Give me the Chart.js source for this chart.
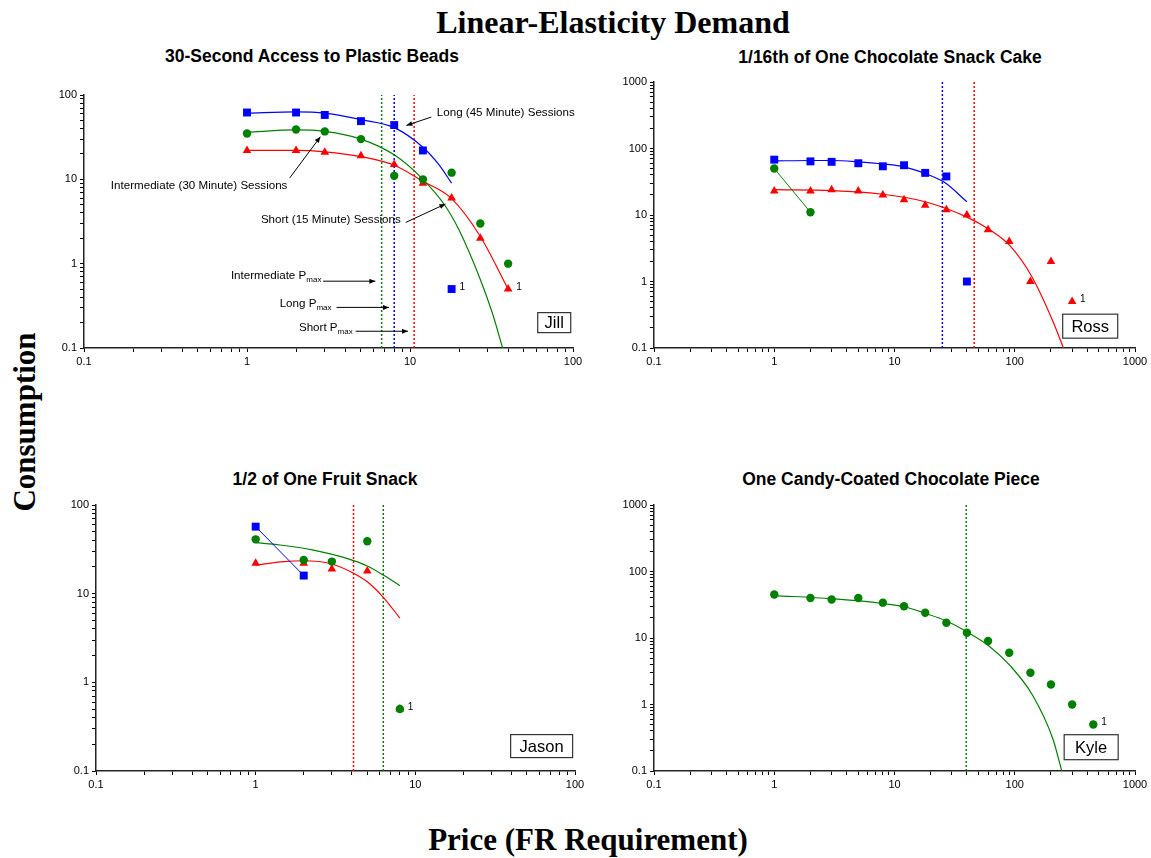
<!DOCTYPE html>
<html>
<head>
<meta charset="utf-8">
<script src="https://cdn.jsdelivr.net/npm/chart.js@4/dist/chart.umd.min.js"></script>
<style>
  body { margin: 0; background: #fff; }
  #page { position: relative; width: 1151px; height: 858px; overflow: hidden; font-family: "Liberation Sans", Arial, sans-serif; }
  #page canvas { position: absolute; }
  .t { position: absolute; white-space: nowrap; transform: translate(-50%, -50%); color: #000; }
  .big { font-family: "Liberation Serif", "Times New Roman", serif; font-weight: bold; font-size: 31px; }
  .sub { font-weight: bold; font-size: 17.5px; }
</style>
</head>
<body>
<div id="page">
  <div class="t big" style="left:613px;top:22px;font-size:32px">Linear-Elasticity Demand</div>
  <div class="t big" style="left:25px;top:422px;transform:translate(-50%,-50%) rotate(-90deg)">Consumption</div>
  <div class="t big" style="left:588px;top:840px">Price (FR Requirement)</div>
  <div class="t sub" style="left:312px;top:56px">30-Second Access to Plastic Beads</div>
  <div class="t sub" style="left:890px;top:57px">1/16th of One Chocolate Snack Cake</div>
  <div class="t sub" style="left:325px;top:479px">1/2 of One Fruit Snack</div>
  <div class="t sub" style="left:891px;top:479px">One Candy-Coated Chocolate Piece</div>
</div>
<script>
// Jill - plastic beads
const jillPrice = [1, 2, 3, 5, 8, 12, 18, 27, 40];
const jillLong = [62, 62, 58, 49, 44, 22, 0.5];
const jillInter = [35, 39, 37, 30, 11, 10, 12, 3, 1];
const jillShort = [22, 22, 21, 19, 15, 9, 6, 2, 0.5];
const jillPmaxPrice = [6.7, 8.0, 10.6]; // intermediate, long, short
const jillLongFitX = [1, 2, 3, 5, 8, 12, 15, 18];
const jillLongFitY = [61, 63, 61, 51, 41, 24, 15, 9];
const jillInterFitX = [1, 2, 3, 5, 8, 12, 16.5, 20, 27, 32, 37];
const jillInterFitY = [36, 38.5, 37, 30, 19.5, 10, 4.8, 2.5, 0.65, 0.26, 0.1];
const jillShortFitX = [1, 2, 3, 5, 8, 12, 18, 27, 40];
const jillShortFitY = [22, 22, 21.2, 18.6, 14.7, 9.5, 5.9, 2.1, 0.5];

// Ross - snack cake
const rossPrice = [1, 2, 3, 5, 8, 12, 18, 27, 40, 60, 90, 135, 200, 300];
const rossLong = [68, 64, 63, 60, 54, 56, 43, 38, 1];
const rossInter = [50, 11];
const rossShort = [23, 23, 24, 23, 20, 17, 14, 12, 10, 6, 4, 1, 2, 0.5];
const rossPmaxPrice = [25, 46]; // long, short
const rossLongFitX = [1, 2, 3, 5, 8, 12, 18, 26, 40];
const rossLongFitY = [65, 66, 66, 63, 58.5, 53, 42, 31, 15.8];
const rossShortFitX = [1, 3, 8, 18, 40, 61, 92, 140, 208, 254];
const rossShortFitY = [24, 23.3, 20.5, 15.8, 9.3, 6.1, 3.4, 1.15, 0.25, 0.1];

// Jason - fruit snack
const jasonPrice = [1, 2, 3, 5, 8];
const jasonLong = [57, 16];
const jasonInter = [41, 24, 23, 39, 0.5];
const jasonShort = [22, 22, 19, 18, 0.5];
const jasonPmaxPrice = [4.1, 6.3]; // short, intermediate
const jasonInterFitX = [1, 1.42, 2.3, 3.72, 5, 6.3, 8];
const jasonInterFitY = [37.6, 35.4, 31, 25, 20.5, 16.2, 12.3];
const jasonShortFitX = [1, 1.5, 2, 3, 4.1, 5, 6.3, 8];
const jasonShortFitY = [21, 23, 23.5, 21.6, 17, 13.6, 9.1, 5.3];

// Kyle - chocolate piece
const kylePrice = [1, 2, 3, 5, 8, 12, 18, 27, 40, 60, 90, 135, 200, 300, 450];
const kyleInter = [45, 40, 38, 40, 34, 30, 24, 17, 12, 9, 6, 3, 2, 1, 0.5];
const kylePmaxPrice = [39.5];
const kyleInterFitX = [1, 3, 8, 12, 18, 27, 40, 61, 92, 140, 208, 246];
const kyleInterFitY = [43.5, 39, 33, 29.5, 23.5, 18, 12.4, 7.6, 3.8, 1.4, 0.3, 0.1];

const BLUE = '#0000ff', GREEN = '#008000', RED = '#ff0000';
const STYLE = {
  long: { color: BLUE, shape: 'rect', r: 5.6 },
  inter: { color: GREEN, shape: 'circle', r: 4.2 },
  short: { color: RED, shape: 'triangle', r: 5 }
};

function pts(xs, ys) {
  return ys.map((y, i) => ({ x: xs[i], y: y }));
}

function marks(xs, ys, kind, order, joined) {
  const s = STYLE[kind];
  return {
    data: pts(xs, ys), showLine: !!joined, borderColor: s.color, borderWidth: 1,
    backgroundColor: s.color, pointBackgroundColor: s.color, pointBorderColor: s.color,
    pointStyle: s.shape, pointRadius: s.r, pointBorderWidth: 0, order: order
  };
}

function fit(xs, ys, kind) {
  return {
    data: pts(xs, ys), showLine: true, borderColor: STYLE[kind].color, borderWidth: 1.2,
    pointRadius: 0, cubicInterpolationMode: 'monotone', order: 10
  };
}

function pmax(x, kind, top) {
  return {
    data: [{ x: x, y: 0.1 }, { x: x, y: top }], showLine: true, borderColor: STYLE[kind].color,
    borderWidth: 1.5, borderDash: [2, 2], pointRadius: 0, order: 20
  };
}

function decadeTicks(scale) {
  const out = [];
  const e0 = Math.round(Math.log10(scale.min)), e1 = Math.round(Math.log10(scale.max));
  for (let e = e0; e <= e1; e++) {
    for (let m = 1; m <= 9; m++) {
      const v = +(m * Math.pow(10, e)).toPrecision(3);
      if (v <= scale.max * 1.0001) out.push({ value: v });
    }
  }
  scale.ticks = out;
}

function decadeLabel(v) {
  const l = Math.log10(v);
  return Math.abs(l - Math.round(l)) < 1e-6 ? String(+v.toPrecision(1)) : '';
}

function axis(max, isX) {
  return {
    type: 'logarithmic', min: 0.1, max: max, position: isX ? 'bottom' : 'left',
    afterBuildTicks: decadeTicks,
    afterFit: s => { if (isX) s.height = 30; else s.width = 50; },
    grid: { drawOnChartArea: false, drawTicks: true, tickLength: 4, tickColor: '#000', lineWidth: 1 },
    border: { display: true, color: '#222', width: 1.5 },
    ticks: { autoSkip: false, maxRotation: 0, padding: 3, color: '#000',
             font: { size: 11, family: '"Liberation Sans", Arial' }, callback: decadeLabel }
  };
}

const notesPlugin = {
  id: 'notes',
  afterDatasetsDraw(chart, args, opts) {
    const ctx = chart.ctx;
    const px = v => chart.scales.x.getPixelForValue(v);
    const py = v => chart.scales.y.getPixelForValue(v);
    ctx.save();
    ctx.fillStyle = '#000';
    ctx.strokeStyle = '#000';
    (opts.arrows || []).forEach(a => {
      const x1 = px(a[0]), y1 = py(a[1]), x2 = px(a[2]), y2 = py(a[3]);
      const ang = Math.atan2(y2 - y1, x2 - x1);
      ctx.lineWidth = 1;
      ctx.beginPath(); ctx.moveTo(x1, y1); ctx.lineTo(x2, y2); ctx.stroke();
      ctx.beginPath();
      ctx.moveTo(x2, y2);
      ctx.lineTo(x2 - 6 * Math.cos(ang) + 2.5 * Math.sin(ang), y2 - 6 * Math.sin(ang) - 2.5 * Math.cos(ang));
      ctx.lineTo(x2 - 6 * Math.cos(ang) - 2.5 * Math.sin(ang), y2 - 6 * Math.sin(ang) + 2.5 * Math.cos(ang));
      ctx.closePath(); ctx.fill();
    });
    ctx.textBaseline = 'middle';
    (opts.texts || []).forEach(t => {
      const f1 = '11.6px "Liberation Sans", Arial', f2 = '8px "Liberation Sans", Arial';
      ctx.font = f1; const w1 = ctx.measureText(t.text).width;
      ctx.font = f2; const w2 = t.sub ? ctx.measureText(t.sub).width : 0;
      let x = px(t.x); const y = py(t.y);
      if (t.align === 'right') x -= w1 + w2;
      ctx.textAlign = 'left';
      ctx.font = f1; ctx.fillText(t.text, x, y);
      if (t.sub) { ctx.font = f2; ctx.fillText(t.sub, x + w1, y + 4); }
    });
    ctx.font = '10px "Liberation Sans", Arial';
    ctx.textAlign = 'left';
    (opts.ones || []).forEach(p => { ctx.fillText('1', px(p[0]) + 8, py(p[1]) - 2); });
    (opts.boxes || []).forEach(b => {
      const x = px(b.x), y = py(b.y);
      ctx.fillStyle = '#fff';
      ctx.fillRect(x - b.w / 2, y - b.h / 2, b.w, b.h);
      ctx.lineWidth = 1.2; ctx.strokeStyle = '#333';
      ctx.strokeRect(x - b.w / 2, y - b.h / 2, b.w, b.h);
      ctx.fillStyle = '#000';
      ctx.font = '16.5px "Liberation Sans", Arial';
      ctx.textAlign = 'center';
      ctx.fillText(b.text, x, y + 1);
    });
    ctx.restore();
  }
};

function makePanel(area, xMax, yMax, datasets, notes) {
  const cv = document.createElement('canvas');
  const w = area.r - area.l + 66, h = area.b - area.t + 40;
  cv.width = w; cv.height = h;
  cv.style.left = (area.l - 50) + 'px';
  cv.style.top = (area.t - 10) + 'px';
  cv.style.width = w + 'px'; cv.style.height = h + 'px';
  document.getElementById('page').appendChild(cv);
  new Chart(cv.getContext('2d'), {
    type: 'scatter',
    data: { datasets: datasets },
    options: {
      responsive: false, animation: false, devicePixelRatio: 1,
      layout: { padding: { top: 10, right: 16, left: 0, bottom: 0 } },
      scales: { x: axis(xMax, true), y: axis(yMax, false) },
      plugins: { legend: { display: false }, tooltip: { enabled: false }, notes: notes }
    },
    plugins: [notesPlugin]
  });
}

makePanel({ l: 84, t: 95, r: 573, b: 348 }, 100, 100, [
  marks(jillPrice, jillLong, 'long', 1),
  marks(jillPrice, jillInter, 'inter', 2),
  marks(jillPrice, jillShort, 'short', 3),
  fit(jillLongFitX, jillLongFitY, 'long'),
  fit(jillInterFitX, jillInterFitY, 'inter'),
  fit(jillShortFitX, jillShortFitY, 'short'),
  pmax(jillPmaxPrice[0], 'inter', 100),
  pmax(jillPmaxPrice[1], 'long', 100),
  pmax(jillPmaxPrice[2], 'short', 100)
], {
  arrows: [
    [13.5, 54.7, 9.5, 43.6],
    [1.83, 10.4, 2.82, 32],
    [9.41, 3.08, 16.5, 5.1],
    [2.93, 0.62, 6.13, 0.62],
    [3.54, 0.303, 7.43, 0.303],
    [4.64, 0.158, 9.72, 0.158]
  ],
  texts: [
    { text: 'Long (45 Minute) Sessions', x: 14.6, y: 61.7, align: 'left' },
    { text: 'Intermediate (30 Minute) Sessions', x: 1.77, y: 8.41, align: 'right' },
    { text: 'Short (15 Minute) Sessions', x: 8.77, y: 3.31, align: 'right' },
    { text: 'Intermediate P', sub: 'max', x: 2.86, y: 0.714, align: 'right' },
    { text: 'Long P', sub: 'max', x: 3.30, y: 0.338, align: 'right' },
    { text: 'Short P', sub: 'max', x: 4.45, y: 0.175, align: 'right' }
  ],
  ones: [[18, 0.5], [40, 0.5]],
  boxes: [{ text: 'Jill', x: 76.7, y: 0.2, w: 33, h: 20 }]
});

makePanel({ l: 654, t: 82, r: 1135, b: 348 }, 1000, 1000, [
  marks(rossPrice, rossLong, 'long', 1),
  marks(rossPrice, rossInter, 'inter', 2, true),
  marks(rossPrice, rossShort, 'short', 3),
  fit(rossLongFitX, rossLongFitY, 'long'),
  fit(rossShortFitX, rossShortFitY, 'short'),
  pmax(rossPmaxPrice[0], 'long', 1000),
  pmax(rossPmaxPrice[1], 'short', 1000)
], {
  ones: [[300, 0.5]],
  boxes: [{ text: 'Ross', x: 424, y: 0.213, w: 55, h: 24 }]
});

makePanel({ l: 96, t: 505, r: 575, b: 771 }, 100, 100, [
  marks(jasonPrice, jasonLong, 'long', 1, true),
  marks(jasonPrice, jasonInter, 'inter', 2),
  marks(jasonPrice, jasonShort, 'short', 3),
  fit(jasonInterFitX, jasonInterFitY, 'inter'),
  fit(jasonShortFitX, jasonShortFitY, 'short'),
  pmax(jasonPmaxPrice[0], 'short', 100),
  pmax(jasonPmaxPrice[1], 'inter', 100)
], {
  ones: [[8, 0.5]],
  boxes: [{ text: 'Jason', x: 61.8, y: 0.191, w: 62, h: 23 }]
});

makePanel({ l: 654, t: 505, r: 1135, b: 771 }, 1000, 1000, [
  marks(kylePrice, kyleInter, 'inter', 2),
  fit(kyleInterFitX, kyleInterFitY, 'inter'),
  pmax(kylePmaxPrice[0], 'inter', 1000)
], {
  ones: [[450, 0.5]],
  boxes: [{ text: 'Kyle', x: 432, y: 0.228, w: 54, h: 25 }]
});
</script>
</body>
</html>
